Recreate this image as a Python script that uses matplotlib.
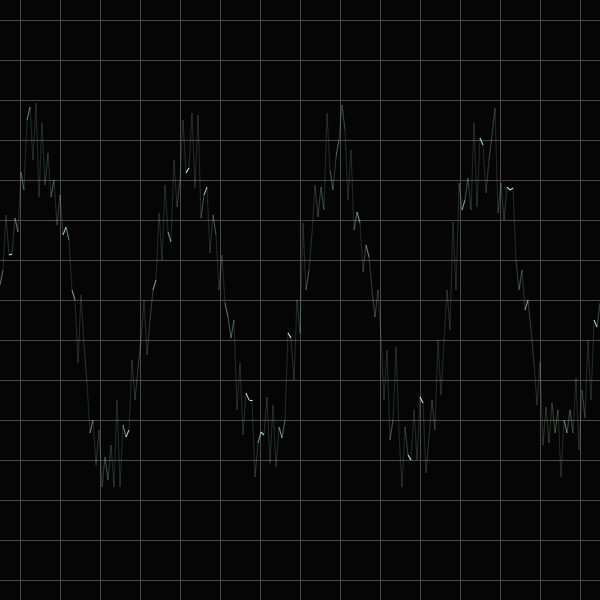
import numpy as np
from matplotlib import pyplot as plt
from matplotlib.collections import LineCollection

# -- DATOS --
# traza ruidosa (y en pixeles desde arriba, un punto cada 3 px)
trace_y = [285, 270, 215, 255, 254, 218, 232, 172, 190, 120,
           107, 160, 103, 197, 123, 185, 153, 197, 180, 225,
           195, 235, 227, 240, 290, 300, 363, 295, 345, 383,
           433, 420, 465, 430, 487, 457, 480, 445, 487, 400,
           487, 425, 437, 430, 360, 400, 368, 340, 300, 355,
           320, 290, 280, 213, 260, 185, 232, 242, 160, 207,
           180, 120, 173, 168, 113, 188, 115, 218, 195, 187,
           253, 215, 235, 290, 255, 303, 317, 338, 320, 410,
           363, 435, 393, 400, 400, 477, 443, 432, 435, 397,
           463, 405, 467, 427, 438, 420, 333, 338, 380, 300,
           333, 223, 290, 270, 233, 185, 217, 187, 210, 113,
           170, 190, 157, 140, 105, 130, 200, 150, 230, 212,
           223, 272, 245, 257, 290, 317, 290, 337, 400, 350,
           440, 420, 347, 433, 487, 427, 455, 460, 410, 460,
           397, 403, 473, 437, 400, 430, 340, 395, 343, 290,
           330, 222, 290, 183, 210, 200, 178, 210, 123, 207,
           138, 145, 193, 160, 135, 108, 213, 183, 220, 187,
           190, 188, 260, 290, 270, 310, 300, 330, 363, 405,
           362, 445, 407, 443, 403, 433, 410, 477, 420, 433,
           410, 433, 378, 450, 390, 418, 340, 400, 320, 327,
           303]
step = 3  # separacion horizontal entre puntos (px)
# -- FIN DATOS --

y = np.array(trace_y, dtype=float)
x = np.arange(len(y)) * step

fig = plt.figure(figsize=(6, 6), dpi=100)
fig.patch.set_facecolor('#050505')
ax = fig.add_axes([0, 0, 1, 1])
ax.set_facecolor('#050505')
ax.set_xlim(0, 600)
ax.set_ylim(600, 0)

# grilla cada 40 px
ax.set_xticks(np.arange(20, 600, 40))
ax.set_yticks(np.arange(20, 600, 40))
ax.grid(True, color='#484848', linewidth=0.75)
ax.tick_params(length=0, labelbottom=False, labelleft=False)
for s in ax.spines.values():
    s.set_visible(False)

# segmentos: los tramos planos brillan, los empinados quedan oscuros
pts = np.column_stack([x, y]).reshape(-1, 1, 2)
segs = np.concatenate([pts[:-1], pts[1:]], axis=1)
dy = np.abs(np.diff(y))
alpha = np.clip(7.0 / (dy + 1.0), 0.15, 1.0)
cols = np.zeros((len(dy), 4))
cols[:, 0] = 0.74
cols[:, 1] = 0.95
cols[:, 2] = 0.84
cols[:, 3] = alpha
lc = LineCollection(segs, colors=cols, linewidths=0.8)
ax.add_collection(lc)

fig.savefig('out.png', dpi=100, facecolor=fig.get_facecolor())
